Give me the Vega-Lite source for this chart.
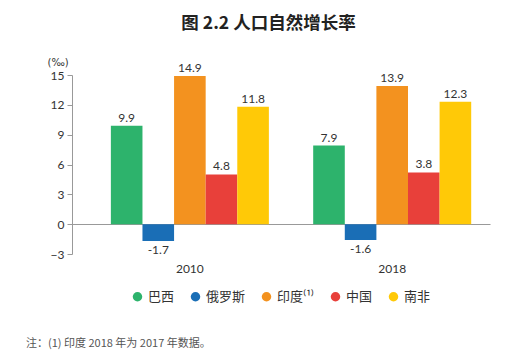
{
  "$schema": "https://vega.github.io/schema/vega-lite/v6.json",
  "background": "white",
  "padding": {"left": 26, "top": 14, "right": 5, "bottom": 5},
  "config": {"view": {"stroke": null}, "font": "Lato", "concat": {"spacing": 0}, "legend": {"layout": {"bottom": {"anchor": "middle"}}}},
  "title": {"text": "注：(1) 印度 2018 年为 2017 年数据。", "orient": "bottom", "anchor": "start", "frame": "bounds", "dx": -21, "font": "Noto Sans CJK SC", "fontSize": 11, "fontWeight": "normal", "color": "#555", "offset": 34},
  "vconcat": [
    {
      "width": 418,
      "height": 179,
      "title": {"text": "图 2.2  人口自然增长率", "frame": "bounds", "anchor": "middle", "dx": 0, "font": "Noto Sans CJK SC", "fontSize": 17.5, "fontWeight": "bold", "color": "#222", "offset": 25},
      "data": {"values": [
        {"year": "2010", "country": "巴西", "value": 9.9, "label": "9.9"},
        {"year": "2010", "country": "俄罗斯", "value": -1.7, "label": "-1.7"},
        {"year": "2010", "country": "印度", "value": 14.9, "label": "14.9"},
        {"year": "2010", "country": "中国", "value": 5.0, "label": "4.8"},
        {"year": "2010", "country": "南非", "value": 11.8, "label": "11.8"},
        {"year": "2018", "country": "巴西", "value": 7.9, "label": "7.9"},
        {"year": "2018", "country": "俄罗斯", "value": -1.6, "label": "-1.6"},
        {"year": "2018", "country": "印度", "value": 13.9, "label": "13.9"},
        {"year": "2018", "country": "中国", "value": 5.2, "label": "3.8"},
        {"year": "2018", "country": "南非", "value": 12.3, "label": "12.3"}
      ]},
      "encoding": {
        "x": {"field": "year", "type": "nominal", "scale": {"paddingInner": 0.219, "paddingOuter": 0.1425, "align": 0.674},
          "axis": {"title": null, "labelAngle": 0, "domain": false, "ticks": false, "labelPadding": 9, "labelFontSize": 12, "labelColor": "#333", "labelFont": "Lato"}},
        "xOffset": {"field": "country", "type": "nominal", "sort": ["巴西", "俄罗斯", "印度", "中国", "南非"], "scale": {"paddingInner": 0, "paddingOuter": 0}},
        "y": {"field": "value", "type": "quantitative", "scale": {"domain": [-3, 15], "nice": false, "zero": false},
          "axis": {"title": "(‰)", "titleAngle": 0, "titleAlign": "left", "titleBaseline": "middle", "titleX": -25, "titleY": -13, "titleFont": "DejaVu Sans", "titleFontWeight": "normal", "titleFontSize": 10, "titleColor": "#333",
            "values": [-3, 0, 3, 6, 9, 12, 15], "grid": true, "gridColor": "#999", "gridOpacity": {"condition": {"test": "datum.value === 0", "value": 1}, "value": 0},
            "domainColor": "#999", "tickColor": "#999", "tickSize": 5, "labelPadding": 3, "labelFontSize": 12, "labelColor": "#333", "labelFont": "Lato"}}
      },
      "layer": [
        {
          "mark": {"type": "bar"},
          "encoding": {
            "color": {"field": "country", "type": "nominal",
              "scale": {"domain": ["巴西", "俄罗斯", "印度", "中国", "南非"], "range": ["#2DB36C", "#1A6EB6", "#F3921F", "#E8403A", "#FFC907"]},
              "legend": {"orient": "bottom", "direction": "horizontal", "title": null, "symbolType": "circle", "symbolSize": 90, "symbolStrokeWidth": 0, "labelFont": "Noto Sans CJK SC", "labelFontSize": 13, "labelColor": "#333", "columnPadding": 14, "offset": 16,
                "labelExpr": "datum.label == '印度' ? '印度⁽¹⁾' : datum.label"}
            }
          }
        },
        {
          "transform": [{"filter": "datum.value >= 0"}],
          "mark": {"type": "text", "baseline": "alphabetic", "dy": -4, "fontSize": 12, "color": "#333", "font": "Lato"},
          "encoding": {"text": {"field": "label", "type": "nominal"}}
        },
        {
          "transform": [{"filter": "datum.value < 0"}],
          "mark": {"type": "text", "baseline": "top", "dy": 4, "fontSize": 12, "color": "#333", "font": "Lato"},
          "encoding": {"text": {"field": "label", "type": "nominal"}}
        }
      ]
    }
  ]
}
